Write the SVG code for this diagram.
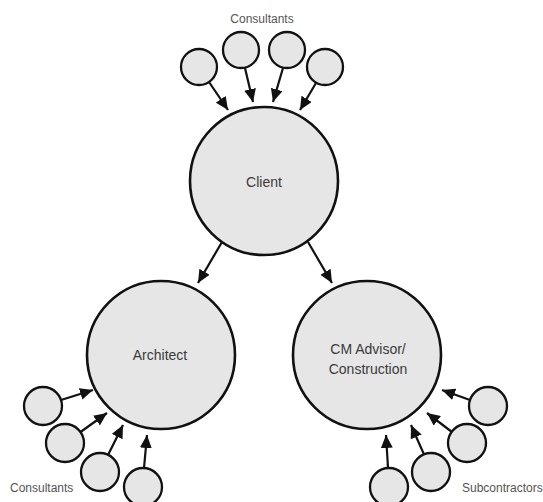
<svg xmlns="http://www.w3.org/2000/svg" width="543" height="502" viewBox="0 0 543 502">
<style>
.big{fill:#e6e6e6;stroke:#111;stroke-width:2.6}
.small{fill:#e6e6e6;stroke:#111;stroke-width:2.3}
.lbl{font-family:"Liberation Sans",Arial,sans-serif;font-size:14px;fill:#3a3a3a;text-anchor:middle}
.cap{font-family:"Liberation Sans",Arial,sans-serif;font-size:12px;fill:#555}
.conn line{stroke:#111;stroke-width:2.2;marker-end:url(#ah)}
</style>
<defs>
<marker id="ah" markerUnits="userSpaceOnUse" markerWidth="14" markerHeight="12" refX="13" refY="6" orient="auto">
<path d="M0,0 L13,6 L0,12 z" fill="#111"/>
</marker>
</defs>
<rect width="543" height="502" fill="#fff"/>
<g class="conn" id="connectors">
<line x1="209" y1="82" x2="228" y2="110"/>
<line x1="245" y1="68" x2="253" y2="102"/>
<line x1="283" y1="68" x2="273" y2="102"/>
<line x1="316" y1="83" x2="300" y2="110"/>
<line x1="222" y1="242" x2="198" y2="283"/>
<line x1="308" y1="242" x2="332" y2="283"/>
<line x1="61" y1="400" x2="93" y2="390"/>
<line x1="80.5" y1="432" x2="107" y2="413"/>
<line x1="108" y1="455" x2="123" y2="425"/>
<line x1="144" y1="468" x2="147" y2="435"/>
<line x1="470" y1="400" x2="442" y2="390"/>
<line x1="452" y1="432" x2="427" y2="413"/>
<line x1="424" y1="454.5" x2="411" y2="425"/>
<line x1="388" y1="468" x2="386" y2="435"/>
</g>
<g id="client"><circle class="big" cx="264" cy="181" r="74"/><text class="lbl" x="264" y="187">Client</text></g>
<g id="architect"><circle class="big" cx="161" cy="355" r="74"/><text class="lbl" x="160" y="360">Architect</text></g>
<g id="cm"><circle class="big" cx="367" cy="355" r="74"/><text class="lbl" x="368" y="354">CM Advisor/</text><text class="lbl" x="368" y="374">Construction</text></g>
<g id="top-consultants">
<circle class="small" cx="199" cy="67" r="18"/>
<circle class="small" cx="241" cy="50" r="18"/>
<circle class="small" cx="287" cy="50" r="18"/>
<circle class="small" cx="325" cy="67" r="18"/>
<text class="cap" x="262" y="23" text-anchor="middle">Consultants</text>
</g>
<g id="arch-consultants">
<circle class="small" cx="43" cy="406" r="19"/>
<circle class="small" cx="65" cy="443" r="19"/>
<circle class="small" cx="100" cy="472" r="19"/>
<circle class="small" cx="143" cy="487" r="19"/>
<text class="cap" x="10" y="492">Consultants</text>
</g>
<g id="subcontractors">
<circle class="small" cx="488" cy="406" r="19"/>
<circle class="small" cx="467" cy="443" r="19"/>
<circle class="small" cx="431" cy="472" r="19"/>
<circle class="small" cx="389" cy="487" r="19"/>
<text class="cap" x="462" y="492">Subcontractors</text>
</g>
</svg>
